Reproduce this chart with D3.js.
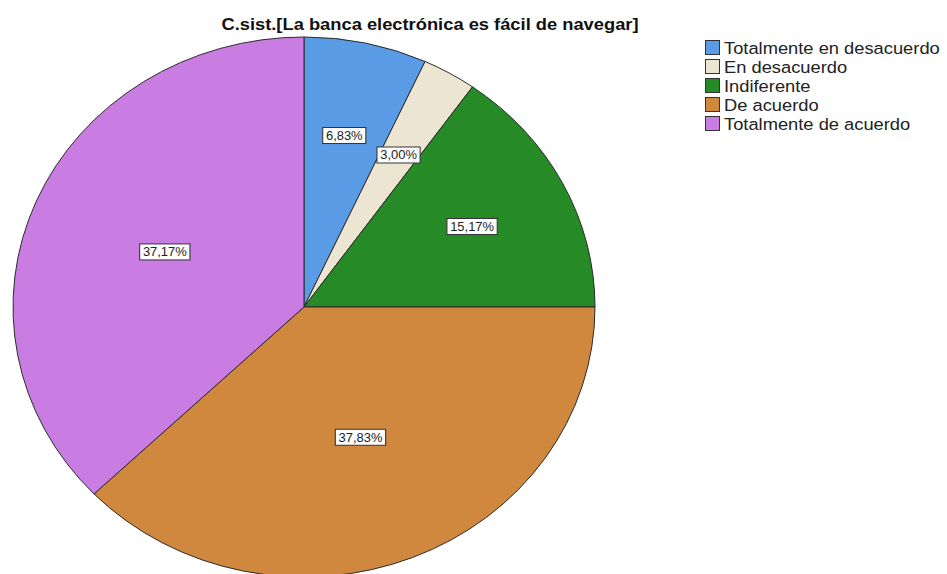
<!DOCTYPE html>
<html>
<head>
<meta charset="utf-8">
<script src="https://cdn.jsdelivr.net/npm/d3@7"></script>
<style>
  html, body { margin: 0; padding: 0; background: #fff; }
  svg { display: block; }
</style>
</head>
<body>
<svg id="chart" width="947" height="574"></svg>
<script>
// Response categories, percentages and slice colours
const categories = ["Totalmente en desacuerdo", "En desacuerdo", "Indiferente", "De acuerdo", "Totalmente de acuerdo"];
const percentages = [6.83, 3.00, 15.17, 37.83, 37.17];
const colors = ["#5A9BE6", "#ECE5D2", "#268A26", "#D0883F", "#C97DE2"];
const title = "C.sist.[La banca electrónica es fácil de navegar]";

const svg = d3.select("#chart");
const FONT = "Liberation Sans, Arial, sans-serif";
// Pie is drawn slightly flattened (wider than tall), text slightly widened
const cx = 304, cy = 307, R = 291, squash = 270 / 291, stretch = 1.078;

const data = categories.map((c, i) => ({ name: c, value: percentages[i], color: colors[i] }));

const pie = d3.pie().value(d => d.value).sort(null);
const arc = d3.arc().innerRadius(0).outerRadius(R);
const arcs = pie(data);

const g = svg.append("g").attr("transform", `translate(${cx},${cy})`);

g.append("g")
  .attr("transform", `scale(1,${squash})`)
  .selectAll("path.slice")
  .data(arcs)
  .join("path")
  .attr("class", "slice")
  .attr("d", arc)
  .attr("fill", d => d.data.color)
  .attr("stroke", "#2b2b2b")
  .attr("stroke-width", 1)
  .attr("vector-effect", "non-scaling-stroke");

// Percentage labels in white boxes
const fmt = v => v.toFixed(2).replace(".", ",") + "%";
const labels = g.selectAll("g.lbl")
  .data(arcs)
  .join("g")
  .attr("class", "lbl")
  .attr("transform", d => {
    const rr = R * (d.data.value > 30 ? 0.52 : 0.65);
    const a = (d.startAngle + d.endAngle) / 2;
    return `translate(${Math.sin(a) * rr},${-Math.cos(a) * rr * squash}) scale(${stretch},1)`;
  });

labels.each(function(d) {
  const sel = d3.select(this);
  const t = sel.append("text")
    .attr("text-anchor", "middle")
    .attr("dy", "0.36em")
    .attr("font-family", FONT)
    .attr("font-size", 12)
    .attr("fill", "#222")
    .text(fmt(d.data.value));
  const w = t.node().getComputedTextLength();
  sel.insert("rect", "text")
    .attr("x", -w / 2 - 3)
    .attr("y", -8)
    .attr("width", w + 6)
    .attr("height", 16)
    .attr("fill", "#fff")
    .attr("stroke", "#333")
    .attr("stroke-width", 1);
});

// Title
svg.append("g")
  .attr("transform", `translate(430,30) scale(${stretch},1)`)
  .append("text")
  .attr("text-anchor", "middle")
  .attr("font-family", FONT)
  .attr("font-weight", "bold")
  .attr("font-size", 17)
  .attr("fill", "#111")
  .text(title);

// Legend
const legend = svg.append("g").attr("transform", "translate(705,40)");
const rows = legend.selectAll("g")
  .data(data)
  .join("g")
  .attr("transform", (d, i) => `translate(0,${i * 19})`);
rows.append("rect")
  .attr("x", 0.5).attr("y", 0.5)
  .attr("width", 14).attr("height", 14)
  .attr("fill", d => d.color)
  .attr("stroke", "#333")
  .attr("stroke-width", 1);
rows.append("text")
  .attr("transform", `translate(19,14) scale(${stretch},1)`)
  .attr("font-family", FONT)
  .attr("font-size", 17)
  .attr("fill", "#222")
  .text(d => d.name);
</script>
</body>
</html>
